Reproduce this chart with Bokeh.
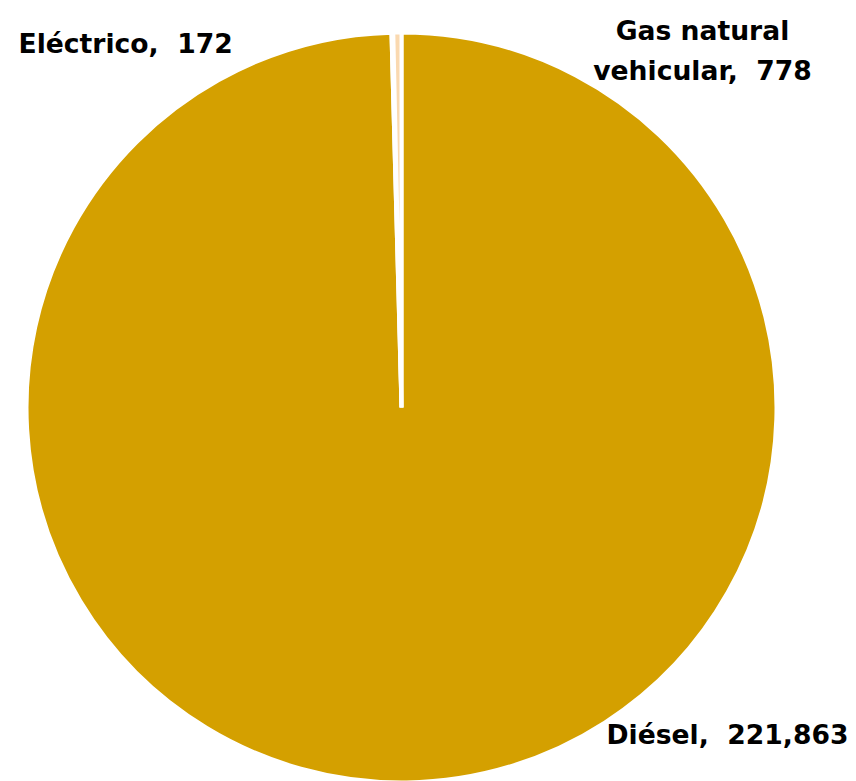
import numpy as np
from bokeh.plotting import figure
from bokeh.models import ColumnDataSource
from bokeh.core.properties import value
from bokeh.embed import file_html
from bokeh.resources import INLINE

categories = ["Diésel", "Eléctrico", "Gas natural vehicular"]
counts = [221863, 172, 778]
colors = ["#D4A000", "#F6C99A", "#FAD9B0"]

W, H = 856, 781
cx, cy, r = 401, 374, 375

total = sum(counts)
frac = np.array(counts) / total
cum = np.concatenate([[0], np.cumsum(frac)])
start = np.pi / 2 - cum[:-1] * 2 * np.pi
end = np.pi / 2 - cum[1:] * 2 * np.pi

src = ColumnDataSource(dict(start=start, end=end, color=colors, cat=categories))

p = figure(width=W, height=H, x_range=(0, W), y_range=(0, H),
           output_backend="svg", toolbar_location=None, min_border=0)
p.axis.visible = False
p.grid.visible = False
p.outline_line_color = None

p.wedge(x=cx, y=cy, radius=r, start_angle="start", end_angle="end",
        direction="clock", fill_color="color", line_color="white",
        line_width=4, source=src)

def fmt(v):
    return f"{v:,}"

SP = ",\u00a0\u00a0"
common = dict(text_font=value("DejaVu Sans"), text_font_size="26.6px",
              text_font_style="bold", text_color="black",
              text_baseline="alphabetic")
# Eléctrico label
p.text(x=[18], y=[738], text=[f"{categories[1]}{SP}{fmt(counts[1])}"],
       text_align="left", **common)
# Gas natural label (two lines)
p.text(x=[702, 702], y=[751, 711], text=["Gas natural", f"vehicular{SP}{fmt(counts[2])}"],
       text_align="center", **common)
# Diésel label
p.text(x=[606], y=[47], text=[f"{categories[0]}{SP}{fmt(counts[0])}"],
       text_align="left", **common)

open("out.html", "w").write(file_html(p, INLINE))
